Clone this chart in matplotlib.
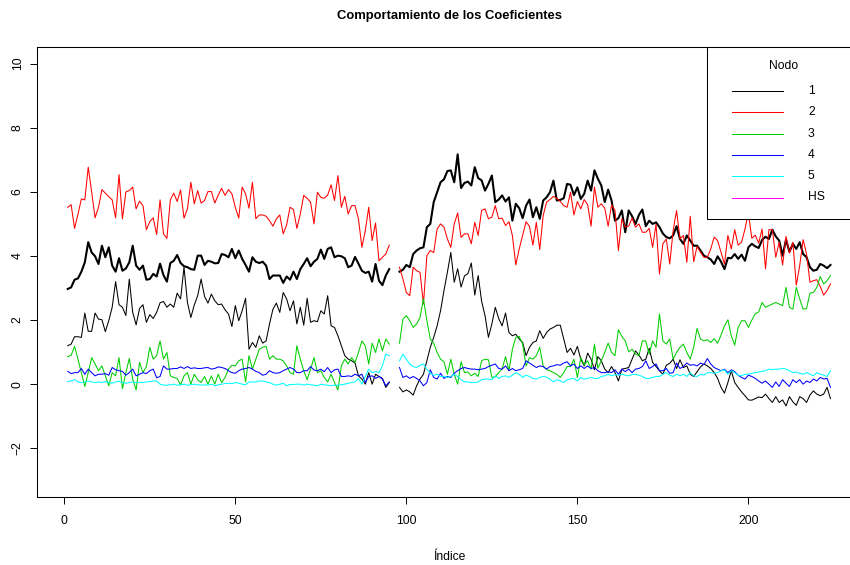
#!/usr/bin/env python3

import sys
import numpy as np
from matplotlib import pyplot as plt
from matplotlib.lines import Line2D
from matplotlib.patches import Rectangle

### Coefficients per node; the series is split in two periods (1-95 and 98-224)
INDEX = np.arange(1, 225)

# thick black line (drawn first, with the plot call)
BASE_A = [2.97, 3.02, 3.26, 3.30, 3.51, 3.80, 4.43, 4.11, 3.99, 3.75,
          4.32, 3.96, 4.27, 3.70, 3.51, 3.93, 3.54, 3.61, 3.80, 4.32,
          3.70, 3.57, 3.70, 3.26, 3.28, 3.44, 3.36, 3.76, 3.40, 3.20,
          3.78, 3.85, 4.03, 3.78, 3.68, 3.65, 3.59, 3.57, 4.01, 4.01,
          3.72, 3.85, 3.82, 3.77, 3.78, 4.06, 4.03, 3.96, 4.22, 3.93,
          4.17, 3.91, 3.72, 3.51, 3.96, 3.82, 3.78, 3.82, 3.70, 3.28,
          3.39, 3.39, 3.39, 3.16, 3.36, 3.26, 3.51, 3.28, 3.59, 3.75,
          3.93, 3.68, 3.82, 3.91, 4.20, 3.91, 4.22, 4.27, 3.96, 4.01,
          3.99, 3.93, 3.65, 3.70, 3.97, 3.76, 3.54, 3.47, 3.51, 3.20,
          3.75, 3.23, 3.09, 3.39, 3.59]
BASE_B = [3.51, 3.57, 3.72, 3.65, 4.06, 4.17, 4.24, 4.27, 4.90, 5.00,
          5.68, 5.99, 6.30, 6.39, 6.65, 6.67, 6.30, 7.17, 6.12, 6.28,
          6.32, 6.20, 6.77, 6.43, 6.36, 6.04, 6.25, 6.51, 5.68, 5.76,
          5.89, 5.70, 5.83, 5.10, 5.63, 5.49, 5.18, 5.57, 5.76, 5.21,
          5.52, 5.16, 5.73, 5.83, 5.99, 6.35, 5.73, 5.75, 5.80, 6.25,
          6.22, 5.90, 6.14, 5.78, 5.94, 6.35, 6.04, 6.67, 6.41, 6.20,
          5.68, 6.07, 5.73, 5.10, 5.18, 5.42, 4.74, 5.42, 5.24, 5.00,
          5.28, 5.45, 4.93, 5.10, 5.00, 5.05, 4.90, 4.70, 4.59, 4.55,
          4.64, 4.93, 4.53, 4.38, 4.64, 4.48, 4.32, 4.32, 4.17, 4.01,
          3.96, 3.89, 3.75, 3.99, 3.82, 3.59, 3.94, 3.93, 4.06, 3.91,
          4.04, 3.85, 4.27, 4.38, 4.30, 4.25, 4.50, 4.60, 4.53, 4.82,
          4.61, 4.48, 4.01, 4.51, 4.13, 4.38, 4.22, 4.43, 4.06, 3.96,
          3.65, 3.54, 3.57, 3.75, 3.70, 3.62, 3.72]

NODO1_A = [1.20, 1.25, 1.48, 1.48, 1.46, 2.22, 1.65, 1.65, 2.22, 2.03,
           2.01, 1.64, 1.98, 2.40, 3.20, 2.48, 2.40, 2.14, 3.28, 2.24,
           1.85, 2.36, 2.48, 1.93, 2.17, 2.05, 2.24, 2.54, 2.58, 2.40,
           2.50, 2.40, 2.84, 2.66, 3.65, 2.55, 2.08, 2.47, 2.76, 3.28,
           2.74, 2.53, 2.81, 2.60, 2.48, 2.50, 2.32, 2.19, 1.80, 2.45,
           1.98, 2.29, 2.68, 1.09, 1.30, 1.15, 1.51, 1.28, 1.35, 1.88,
           2.34, 2.53, 2.24, 2.86, 2.66, 2.29, 2.60, 1.88, 2.40, 1.84,
           2.68, 1.93, 1.98, 1.95, 2.29, 2.19, 2.76, 1.82, 1.77, 1.51,
           1.20, 0.89, 0.78, 0.73, 0.66, 0.26, 0.16, 0.00, 0.36, 0.00,
           0.31, 0.24, 0.18, -0.10, 0.05]
NODO1_B = [-0.10, -0.24, -0.18, -0.24, -0.34, -0.05, 0.16, 0.31, 0.73, 1.15,
           1.46, 1.82, 2.29, 2.92, 3.49, 4.11, 3.18, 3.60, 3.03, 3.38,
           3.45, 3.78, 2.78, 3.39, 2.59, 2.14, 1.46, 1.88, 2.40, 2.05,
           1.82, 2.22, 1.61, 1.51, 1.56, 1.41, 1.30, 0.89, 1.15, 1.30,
           1.35, 1.67, 1.43, 1.61, 1.72, 1.77, 1.84, 1.84, 1.42, 0.99,
           1.12, 0.91, 1.18, 0.78, 0.57, 0.97, 0.78, 0.45, 0.86, 0.73,
           0.47, 0.36, 0.55, 0.36, 0.10, 0.47, 0.49, 0.52, 0.78, 1.04,
           0.91, 0.73, 0.78, 1.12, 0.68, 0.55, 0.42, 0.31, 0.59, 0.65,
           0.78, 0.49, 0.76, 0.52, 0.57, 0.31, 0.24, 0.39, 0.54, 0.63,
           0.57, 0.49, 0.36, 0.18, -0.10, -0.28, 0.05, 0.42, 0.05, -0.10,
           -0.24, -0.36, -0.49, -0.50, -0.45, -0.40, -0.42, -0.31, -0.45, -0.57,
           -0.39, -0.57, -0.49, -0.68, -0.39, -0.55, -0.66, -0.39, -0.45, -0.57,
           -0.34, -0.21, -0.31, -0.36, -0.31, -0.10, -0.45]

NODO2_A = [5.52, 5.60, 4.86, 5.30, 5.78, 5.75, 6.77, 6.00, 5.19, 5.52,
           6.07, 5.96, 5.85, 5.75, 5.19, 6.54, 5.16, 6.00, 6.04, 6.15,
           5.47, 5.71, 5.57, 4.82, 5.07, 5.19, 4.67, 5.75, 4.69, 4.55,
           5.75, 5.96, 5.70, 6.06, 5.18, 5.47, 6.30, 5.63, 6.04, 5.65,
           5.73, 6.01, 6.01, 5.65, 5.90, 6.11, 5.89, 6.07, 5.94, 5.52,
           5.18, 6.15, 5.94, 5.49, 6.30, 5.16, 5.28, 5.28, 5.24, 5.10,
           4.93, 5.16, 5.28, 4.69, 4.97, 5.52, 5.45, 4.86, 5.31, 5.89,
           5.80, 5.68, 5.00, 5.99, 5.83, 5.80, 5.90, 6.22, 5.73, 6.51,
           5.52, 5.86, 5.31, 5.57, 5.57, 5.16, 4.27, 4.79, 5.52, 4.48,
           5.03, 3.85, 3.96, 4.06, 4.34]
NODO2_B = [3.65, 3.28, 2.86, 2.76, 3.65, 3.54, 3.49, 2.50, 4.01, 4.17,
           4.11, 4.84, 5.00, 4.90, 4.53, 4.27, 5.00, 5.34, 4.58, 4.69,
           4.69, 4.38, 5.05, 4.64, 5.42, 5.47, 5.16, 5.21, 5.57, 5.16,
           5.18, 4.95, 5.07, 4.64, 3.72, 4.22, 4.64, 5.07, 4.92, 4.34,
           5.05, 4.20, 5.26, 5.68, 5.76, 5.86, 5.80, 5.70, 5.57, 5.52,
           5.99, 5.28, 5.70, 5.47, 5.76, 5.60, 4.93, 6.15, 5.52, 5.63,
           5.49, 4.93, 5.60, 5.42, 4.17, 5.16, 4.90, 4.93, 5.18, 4.90,
           5.00, 4.74, 4.74, 4.86, 4.27, 4.99, 3.44, 4.38, 4.53, 3.75,
           4.79, 5.42, 4.53, 4.64, 3.80, 5.24, 3.82, 4.30, 4.11, 3.96,
           3.96, 4.22, 4.59, 4.48, 4.11, 3.75, 4.64, 4.22, 4.82, 4.34,
           4.43, 4.84, 5.34, 4.55, 4.65, 4.40, 4.84, 3.60, 4.82, 4.82,
           3.96, 4.43, 3.72, 4.61, 4.09, 4.43, 3.09, 3.70, 4.51, 4.06,
           3.18, 3.23, 3.26, 3.05, 2.78, 2.92, 3.13]

NODO3_A = [0.86, 0.90, 1.18, 0.78, 0.36, -0.07, 0.36, 0.83, 0.63, 0.42,
           0.57, 0.26, -0.05, 0.36, 0.26, 0.83, -0.14, 0.36, 0.80, 0.16,
           -0.18, 0.68, 0.36, 0.55, 1.15, 0.78, 0.89, 1.35, 0.78, 0.99,
           0.26, 0.21, 0.18, -0.03, 0.26, 0.36, 0.00, 0.31, 0.14, 0.05,
           0.24, 0.00, 0.26, 0.00, 0.31, 0.05, 0.21, 0.47, 0.59, 0.57,
           0.73, 0.78, 0.07, 0.89, 0.47, 0.78, 1.09, 1.15, 1.18, 0.78,
           0.89, 0.78, 0.78, 0.73, 0.57, 0.36, 0.31, 1.20, 0.78, 0.42,
           0.14, 0.47, 0.83, 0.36, 0.42, 0.21, 0.07, 0.31, 0.05, -0.18,
           0.57, 0.78, 0.63, 0.83, 0.68, 0.99, 1.35, 1.20, 0.63, 1.28,
           0.99, 1.41, 1.04, 1.41, 1.25]
NODO3_B = [1.28, 2.03, 2.14, 1.98, 1.77, 1.88, 2.08, 2.66, 1.98, 1.41,
           1.28, 0.99, 0.78, 0.70, 0.31, 0.78, 0.31, 0.00, 0.70, 0.36,
           0.38, 0.26, 0.34, 0.24, 0.73, 0.78, 0.76, 0.21, 0.23, 0.36,
           0.47, 0.86, 0.42, 1.09, 1.46, 1.49, 1.25, 0.57, 0.83, 0.78,
           0.89, 1.15, 0.57, 0.45, 0.42, 0.36, 0.31, 0.21, 0.36, 0.55,
           0.55, 0.78, 0.21, 0.83, 0.60, 0.73, 0.47, 1.25, 0.50, 0.73,
           0.99, 1.28, 0.99, 0.89, 1.70, 1.49, 1.35, 1.01, 1.09, 0.94,
           0.89, 1.35, 1.35, 0.94, 1.35, 1.15, 2.19, 1.35, 1.25, 1.41,
           0.78, 0.99, 1.15, 1.25, 0.99, 0.78, 1.15, 1.74, 1.41, 1.35,
           1.39, 1.30, 1.42, 1.28, 1.53, 1.82, 2.01, 1.51, 1.22, 1.77,
           1.98, 1.98, 1.77, 2.00, 2.20, 2.25, 2.55, 2.40, 2.45, 2.50,
           2.55, 2.50, 2.45, 3.02, 2.40, 2.34, 3.02, 2.66, 2.34, 2.36,
           2.84, 2.86, 3.02, 3.36, 3.13, 3.23, 3.39]

NODO4_A = [0.40, 0.33, 0.36, 0.36, 0.49, 0.31, 0.47, 0.36, 0.26, 0.31,
           0.31, 0.33, 0.28, 0.52, 0.45, 0.42, 0.40, 0.28, 0.36, 0.47,
           0.26, 0.31, 0.36, 0.33, 0.42, 0.47, 0.20, 0.24, 0.57, 0.47,
           0.47, 0.49, 0.49, 0.54, 0.49, 0.55, 0.49, 0.51, 0.49, 0.49,
           0.51, 0.52, 0.47, 0.49, 0.54, 0.52, 0.49, 0.42, 0.36, 0.34,
           0.42, 0.47, 0.49, 0.52, 0.47, 0.40, 0.36, 0.28, 0.31, 0.42,
           0.36, 0.34, 0.36, 0.42, 0.47, 0.52, 0.47, 0.36, 0.36, 0.42,
           0.42, 0.55, 0.44, 0.42, 0.47, 0.39, 0.52, 0.36, 0.45, 0.47,
           0.24, 0.24, 0.26, 0.24, 0.31, 0.26, 0.31, 0.05, 0.24, 0.26,
           0.18, 0.24, 0.16, -0.05, 0.07]
NODO4_B = [0.52, 0.21, 0.26, 0.18, 0.24, 0.18, 0.10, -0.05, 0.05, 0.45,
           0.21, 0.16, 0.34, 0.18, 0.24, 0.21, 0.34, 0.42, 0.49, 0.52,
           0.49, 0.47, 0.47, 0.45, 0.47, 0.49, 0.55, 0.59, 0.63, 0.49,
           0.47, 0.57, 0.42, 0.49, 0.42, 0.45, 0.49, 0.73, 0.66, 0.59,
           0.52, 0.57, 0.55, 0.47, 0.55, 0.57, 0.61, 0.59, 0.66, 0.70,
           0.57, 0.63, 0.49, 0.57, 0.49, 0.57, 0.49, 0.52, 0.42, 0.36,
           0.36, 0.39, 0.36, 0.45, 0.31, 0.47, 0.39, 0.47, 0.36, 0.47,
           0.49, 0.55, 0.73, 0.49, 0.55, 0.63, 0.42, 0.42, 0.49, 0.34,
           0.36, 0.66, 0.49, 0.55, 0.66, 0.59, 0.61, 0.57, 0.66, 0.61,
           0.80, 0.63, 0.52, 0.47, 0.42, 0.47, 0.36, 0.45, 0.39, 0.28,
           0.21, 0.16, 0.28, 0.24, 0.18, 0.10, 0.03, 0.10, 0.00, -0.10,
           0.07, -0.07, 0.14, 0.03, -0.07, 0.14, 0.05, 0.14, 0.00, 0.10,
           0.05, 0.16, 0.10, 0.21, 0.16, 0.18, -0.10]

NODO5_A = [0.08, 0.10, 0.14, 0.07, 0.05, 0.07, 0.10, 0.07, 0.05, 0.07,
           0.05, 0.08, 0.05, 0.03, 0.07, 0.09, 0.05, 0.03, 0.05, 0.07,
           0.05, 0.06, 0.05, 0.07, 0.08, 0.10, 0.10, 0.00, -0.03, -0.03,
           -0.02, 0.00, -0.03, -0.02, 0.00, -0.03, -0.02, 0.00, -0.02, -0.03,
           -0.02, -0.03, 0.00, -0.05, -0.02, 0.00, 0.02, 0.03, 0.02, 0.05,
           0.03, 0.00, -0.02, 0.07, 0.07, 0.07, 0.10, 0.10, 0.07, 0.05,
           0.00, -0.03, 0.00, 0.03, -0.05, -0.01, -0.01, 0.00, 0.00, -0.03,
           0.00, -0.02, -0.03, -0.05, -0.01, -0.02, -0.03, -0.05, -0.03, -0.03,
           -0.02, 0.00, 0.03, 0.05, 0.07, 0.18, 0.00, 0.24, 0.47, 0.36,
           0.39, 0.36, 0.57, 0.94, 0.89]
NODO5_B = [0.73, 0.94, 0.78, 0.63, 0.55, 0.52, 0.59, 0.63, 0.47, 0.34,
           0.28, 0.31, 0.24, 0.24, 0.21, 0.24, 0.31, 0.24, 0.14, 0.07,
           0.07, 0.05, 0.05, 0.07, 0.14, 0.16, 0.16, 0.14, 0.26, 0.18,
           0.24, 0.26, 0.21, 0.28, 0.36, 0.31, 0.21, 0.28, 0.24, 0.18,
           0.16, 0.21, 0.24, 0.22, 0.16, 0.07, 0.14, 0.10, 0.05, 0.14,
           0.16, 0.18, 0.10, 0.21, 0.16, 0.18, 0.21, 0.18, 0.18, 0.24,
           0.26, 0.31, 0.26, 0.30, 0.28, 0.31, 0.28, 0.26, 0.30, 0.31,
           0.28, 0.24, 0.18, 0.18, 0.21, 0.24, 0.24, 0.31, 0.36, 0.28,
           0.24, 0.31, 0.26, 0.31, 0.24, 0.36, 0.26, 0.24, 0.31, 0.28,
           0.36, 0.36, 0.34, 0.36, 0.42, 0.45, 0.31, 0.42, 0.36, 0.28,
           0.26, 0.31, 0.31, 0.34, 0.36, 0.38, 0.40, 0.42, 0.47, 0.45,
           0.47, 0.47, 0.49, 0.47, 0.42, 0.36, 0.38, 0.34, 0.31, 0.36,
           0.31, 0.26, 0.36, 0.31, 0.28, 0.24, 0.42]

LEGEND_LABELS = ['1', '2', '3', '4', '5', 'HS']
LEGEND_COLORS = ['black', 'red', '#00CD00', 'blue', 'cyan', 'magenta']

XTICKS = [0, 50, 100, 150, 200]
YTICKS = [-2, 0, 2, 4, 6, 8, 10]
YLIM = (-3, 10)

### Figure geometry (pixels, 850x565 canvas)
W, H = 850, 565
BOX_L, BOX_R, BOX_T, BOX_B = 37.2, 861.0, 47.0, 497.0
THIN, THICK = 0.75, 1.5
FS = 8.7


def join_periods(first, second):
    """ Stack both periods with two missing values in between """
    assert len(first) == 95 and len(second) == 127, 'ERROR: bad series length'
    return np.concatenate([first, [np.nan, np.nan], second])


def draw_legend(fig):
    """ Legend box in the top right corner, drawn like R's legend() """
    tr = fig.transFigure
    fx = lambda px: px / W
    fy = lambda py: 1 - py / H

    fig.patches.append(Rectangle((fx(707), fy(219)), fx(BOX_R + 5) - fx(707),
                                 fy(BOX_T) - fy(219), transform=tr,
                                 facecolor='white', edgecolor='black', lw=0.75))
    fig.text(fx(784), fy(66), 'Nodo', ha='center', va='center', fontsize=FS)
    rows = [91, 112.3, 133.6, 154.9, 176.2, 197.5]
    for row, lab, col in zip(rows, LEGEND_LABELS, LEGEND_COLORS):
        fig.lines.append(Line2D([fx(732), fx(783)], [fy(row), fy(row)],
                                transform=tr, color=col, lw=THIN))
        fig.text(fx(808), fy(row), lab, ha='left', va='center', fontsize=FS)


def main():
    """ Draw the coefficients chart """
    plt.rcParams['font.family'] = ['Liberation Sans', 'DejaVu Sans']

    fig = plt.figure(figsize=(W / 100, H / 100), dpi=100)
    ax = fig.add_axes([BOX_L / W, 1 - BOX_B / H, (BOX_R - BOX_L) / W,
                       (BOX_B - BOX_T) / H])

    base = join_periods(BASE_A, BASE_B)
    nodes = [join_periods(NODO1_A, NODO1_B), join_periods(NODO2_A, NODO2_B),
             join_periods(NODO3_A, NODO3_B), join_periods(NODO4_A, NODO4_B),
             join_periods(NODO5_A, NODO5_B)]

    ax.plot(INDEX, base, color='black', lw=THICK)
    for vals, col in zip(nodes, LEGEND_COLORS):
        ax.plot(INDEX, vals, color=col, lw=THIN)

    # R-style 4% padding on both axes
    span = INDEX[-1] - INDEX[0]
    ax.set_xlim(INDEX[0] - 0.04 * span, INDEX[-1] + 0.04 * span)
    yspan = YLIM[1] - YLIM[0]
    ax.set_ylim(YLIM[0] - 0.04 * yspan, YLIM[1] + 0.04 * yspan)

    ax.set_xticks(XTICKS)
    ax.set_yticks(YTICKS)
    ax.set_yticklabels(['\u22122' if t < 0 else str(t) for t in YTICKS])
    ax.tick_params(direction='out', length=5.2, width=0.7, labelsize=FS,
                   colors='black')
    ax.tick_params(axis='x', pad=8)
    ax.tick_params(axis='y', pad=4.5, labelrotation=90)
    for lab in ax.get_yticklabels():
        lab.set_va('center')
    for side in ['top', 'right', 'bottom', 'left']:
        ax.spines[side].set_linewidth(0.75)

    ax.set_xlabel('\u00cdndice', fontsize=FS)
    ax.xaxis.set_label_coords(0.5, -0.12)
    ax.set_title('Comportamiento de los Coeficientes', fontsize=9.4,
                 fontweight='bold', pad=20)

    draw_legend(fig)

    fig.savefig('out.png', dpi=100)
    return 0


if __name__ == '__main__':
    sys.exit(main())
